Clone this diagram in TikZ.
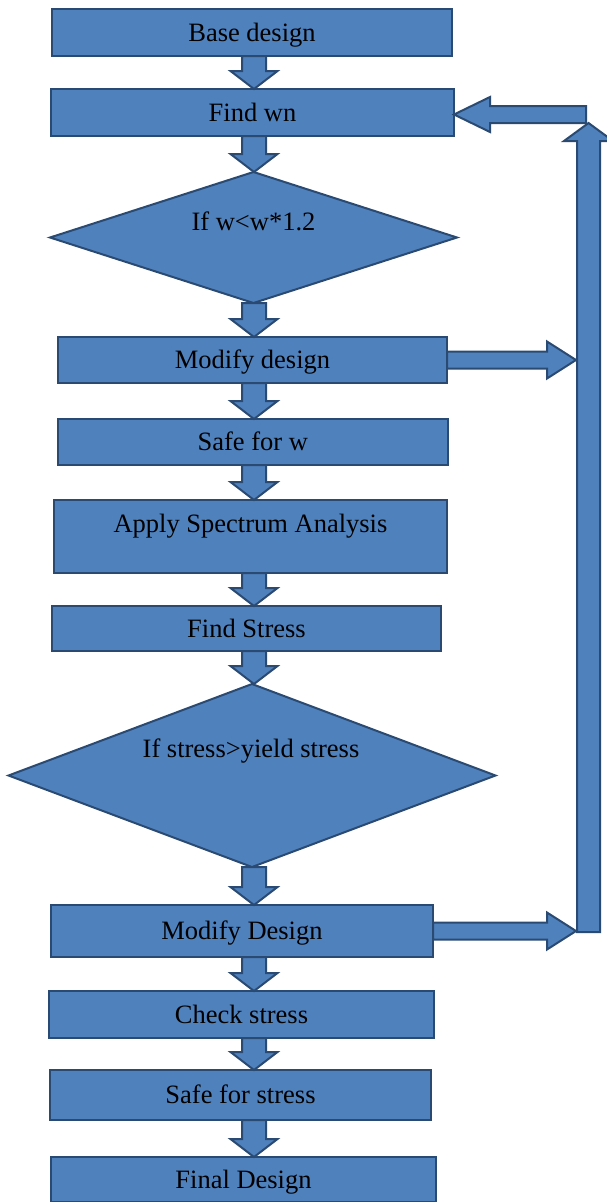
\documentclass[tikz,border=0pt]{standalone}
\usepackage{fontspec}
\setmainfont{Liberation Serif}
\usetikzlibrary{shapes.geometric,calc}
\definecolor{blu}{HTML}{4F81BD}
\definecolor{bord}{HTML}{2A4A72}
\newcommand\flowfont{\fontsize{26.5pt}{30pt}\selectfont}
\begin{document}
\begin{tikzpicture}[x=1pt,y=-1pt,
  box/.style={rectangle, draw=bord, fill=blu, line width=2pt, inner sep=0pt, outer sep=0pt,
              font=\flowfont, text height=17.5pt, text depth=0pt},
  dia/.style={diamond, draw=bord, fill=blu, line width=2pt, inner sep=0pt, outer sep=0pt},
  lbl/.style={inner sep=0pt, font=\flowfont, text height=17.5pt, text depth=0pt},
  barrow/.style={draw=bord, fill=blu, line width=2pt, line join=miter}]
\useasboundingbox (0,0) rectangle (606,1202);

% nodes
\node[box, minimum width=400pt, minimum height=47pt] (b1) at (252,32.5) {Base design};
\node[box, minimum width=403pt, minimum height=47pt] (b2) at (252.5,112.5) {Find wn};
\node[dia, minimum width=407pt, minimum height=131pt] (d1) at (253.5,237.5) {};
\node[lbl] (d1t) at (253.5,222) {If w<w*1.2};
\node[box, minimum width=389pt, minimum height=46pt] (b3) at (252.5,360) {Modify design};
\node[box, minimum width=389.5pt, minimum height=46pt] (b4) at (252.75,442) {Safe for w};
\node[box, minimum width=393pt, minimum height=73pt] (b5) at (250.5,536.5) {};
\node[lbl] (b5t) at (250.5,524) {Apply Spectrum Analysis};
\node[box, minimum width=389pt, minimum height=45pt] (b6) at (246.5,628.5) {Find Stress};
\node[dia, minimum width=487pt, minimum height=183pt] (d2) at (252,775.5) {};
\node[lbl] (d2t) at (251,749) {If stress>yield stress};
\node[box, minimum width=382pt, minimum height=52pt] (b7) at (242,931) {Modify Design};
\node[box, minimum width=385pt, minimum height=47pt] (b8) at (241.5,1014.5) {Check stress};
\node[box, minimum width=381pt, minimum height=50pt] (b9) at (240.5,1095) {Safe for stress};
\node[box, minimum width=385pt, minimum height=45pt] (b10) at (243.5,1179.5) {Final Design};

% helper coordinates
\coordinate (axis) at (254,0);
\coordinate (vs) at (576,0);
\coordinate (lb) at (588.5,932);
\coordinate (lt) at (588.5,123);
\coordinate (tl) at (586,114.5);

% down block arrows
\newcommand\darr[2]{%
  \draw[barrow] let \p1=(#1.south), \p2=(#2.north), \p3=(axis) in
    (\x3-12pt,\y1) -- (\x3+12pt,\y1) -- (\x3+12pt,\y2+18pt) -- (\x3+23.5pt,\y2+18pt)
    -- (\x3,\y2) -- (\x3-23.5pt,\y2+18pt) -- (\x3-12pt,\y2+18pt) -- cycle;}
\darr{b1}{b2}
\darr{b2}{d1}
\darr{d1}{b3}
\darr{b3}{b4}
\darr{b4}{b5}
\darr{b5}{b6}
\darr{b6}{d2}
\darr{d2}{b7}
\darr{b7}{b8}
\darr{b8}{b9}
\darr{b9}{b10}

% right block arrows to the loop
\newcommand\rarr[1]{%
  \draw[barrow] let \p1=(#1.east), \p2=(vs) in
    (\x1,\y1+8.5pt) -- (\x2-29pt,\y1+8.5pt) -- (\x2-29pt,\y1+18.5pt) -- (\x2,\y1)
    -- (\x2-29pt,\y1-18.5pt) -- (\x2-29pt,\y1-8.5pt) -- (\x1,\y1-8.5pt) -- cycle;}
\rarr{b3}
\rarr{b7}

% vertical loop arrow
\draw[barrow] let \p1=(lb), \p2=(lt) in
  (\x1-11.5pt,\y1) -- (\x1-11.5pt,\y2-18pt) -- (\x1-24.5pt,\y2-18pt) -- (\x2,\y2)
  -- (\x1+24.5pt,\y2-18pt) -- (\x1+11.5pt,\y2-18pt) -- (\x1+11.5pt,\y1) -- cycle;

% back to Find wn
\draw[barrow] let \p1=(tl), \p2=(b2.east) in
  (\x1,\y1+8.5pt) -- (\x2+36pt,\y1+8.5pt) -- (\x2+36pt,\y1+17.5pt) -- (\x2,\y1)
  -- (\x2+36pt,\y1-17.5pt) -- (\x2+36pt,\y1-8.5pt) -- (\x1,\y1-8.5pt) -- cycle;
\end{tikzpicture}
\end{document}
